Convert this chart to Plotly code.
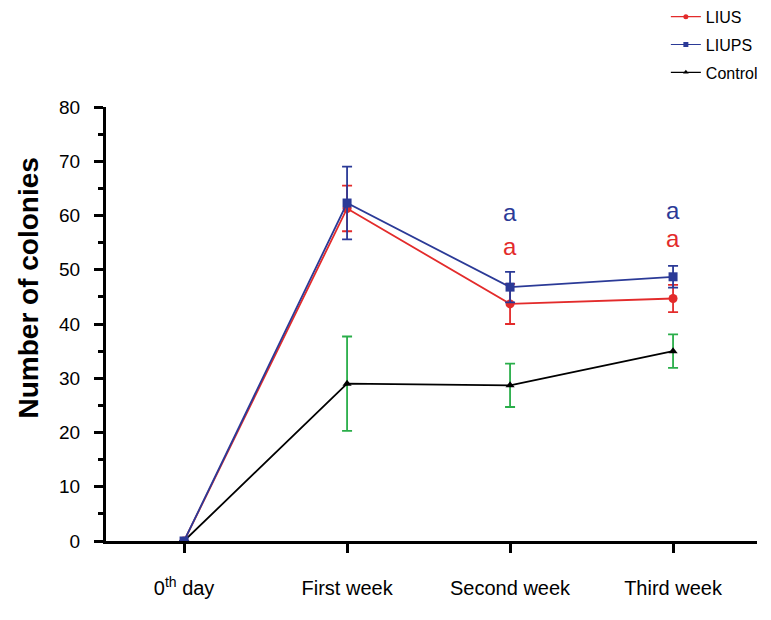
import plotly.graph_objects as go

categories = ["0<sup>th</sup> day", "First week", "Second week", "Third week"]
x_pos = [0, 1, 2, 3]

lius = [0, 61.3, 43.7, 44.7]
lius_err = [None, 4.2, 3.7, 2.5]
liups = [0, 62.3, 46.8, 48.7]
liups_err = [None, 6.7, 2.8, 2.0]
control = [0, 29.0, 28.7, 35.0]
control_err = [None, 8.7, 4.0, 3.1]

sig_x = [2, 2, 3, 3]
sig_y = [60.5, 54.3, 61.0, 55.8]
sig_text = ["a", "a", "a", "a"]
sig_color = ["#2b3a97", "#e32b2b", "#2b3a97", "#e32b2b"]

RED = "#e32b2b"
BLUE = "#2b3a97"
GREEN = "#2aae4a"

fig = go.Figure()

fig.add_trace(go.Scatter(
    x=x_pos, y=control, name="Control", mode="lines+markers",
    line=dict(color="black", width=1.8),
    marker=dict(symbol="triangle-up", size=8, color="black"),
    error_y=dict(type="data", array=control_err, color=GREEN, thickness=1.8, width=5),
    showlegend=False,
))
fig.add_trace(go.Scatter(
    x=x_pos, y=lius, name="LIUS", mode="lines+markers",
    line=dict(color=RED, width=1.8),
    marker=dict(symbol="circle", size=9, color=RED),
    error_y=dict(type="data", array=lius_err, color=RED, thickness=1.8, width=5),
    showlegend=False,
))
fig.add_trace(go.Scatter(
    x=x_pos, y=liups, name="LIUPS", mode="lines+markers",
    line=dict(color=BLUE, width=1.8),
    marker=dict(symbol="square", size=9, color=BLUE),
    error_y=dict(type="data", array=liups_err, color=BLUE, thickness=1.8, width=5),
    showlegend=False,
))

# legend entries
for name, col, sym in [("LIUS", RED, "circle"), ("LIUPS", BLUE, "square"), ("Control", "black", "triangle-up")]:
    fig.add_trace(go.Scatter(
        x=[None], y=[None], name=name, mode="lines+markers", legendgroup=name,
        line=dict(color=col, width=1.2),
        marker=dict(symbol=sym, size=5, color=col),
    ))

for xx, yy, tt, cc in zip(sig_x, sig_y, sig_text, sig_color):
    fig.add_annotation(x=xx, y=yy, text=tt, showarrow=False,
                       font=dict(family="Arial, Liberation Sans", size=24, color=cc))

fig.add_annotation(x=-0.119, y=0.583, xref="paper", yref="paper",
                   xanchor="center", yanchor="middle",
                   text="<b>Number of colonies</b>", textangle=-90, showarrow=False,
                   font=dict(family="Arial, Liberation Sans", size=28, color="black"))

fig.update_layout(
    width=763, height=612,
    margin=dict(l=98, r=14, t=99, b=79, autoexpand=False),
    plot_bgcolor="white", paper_bgcolor="white",
    font=dict(family="Arial, Liberation Sans", color="black"),
    legend=dict(x=0.86, y=1.247, xanchor="left", yanchor="top",
                font=dict(size=16, color="black"), tracegroupgap=4,
                itemwidth=30, bgcolor="rgba(0,0,0,0)"),
    xaxis=dict(
        range=[-0.479, 3.515], tickmode="array", tickvals=x_pos, ticktext=categories,
        showline=True, linecolor="black", linewidth=3,
        ticks="outside", ticklen=9, tickwidth=3, tickcolor="black",
        showgrid=False, zeroline=False, automargin=False,
        ticklabelstandoff=18,
        tickfont=dict(size=20, color="black"),
    ),
    yaxis=dict(
        range=[0, 80], tickmode="linear", tick0=0, dtick=10,
        showline=True, linecolor="black", linewidth=3,
        ticks="outside", ticklen=9, tickwidth=3, tickcolor="black",
        minor=dict(dtick=5, ticks="outside", ticklen=5, tickwidth=3, tickcolor="black"),
        showgrid=False, zeroline=False, automargin=False,
        ticklabelstandoff=10,
        tickfont=dict(size=19, color="black"),
    ),
)

fig.write_html("out.html")
